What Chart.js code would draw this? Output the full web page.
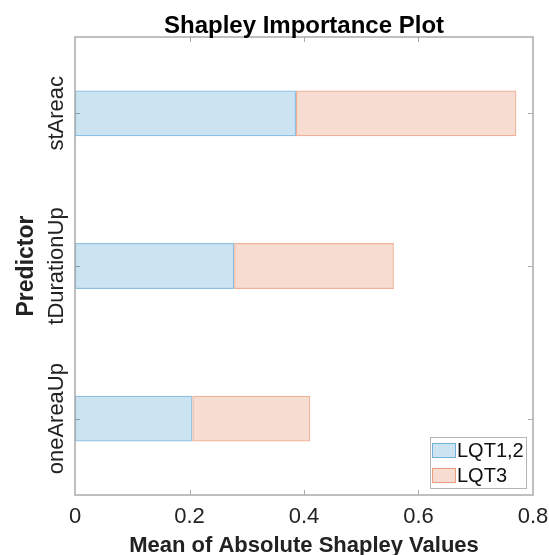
<!DOCTYPE html>
<html lang="en">
<head>
    <meta charset="UTF-8">
    <title>Shapley Importance Plot</title>
    <style>
        html, body { margin: 0; padding: 0; background: #fff; }
        #wrap { width: 549px; height: 555px; }
    </style>
</head>
<body>
    <div id="wrap"><canvas id="myChart"></canvas></div>

    <script src="https://cdn.jsdelivr.net/npm/chart.js"></script>
    <script>
        const predictors = ['stAreac', 'tDurationUp', 'oneAreaUp'];
        const lqt12 = [0.386, 0.278, 0.205];
        const lqt3 = [0.385, 0.279, 0.206];
        const xTicks = [0, 0.2, 0.4, 0.6, 0.8];
        const chartTitle = 'Shapley Importance Plot';

        const fontFam = '"Liberation Sans", Arial, sans-serif';
        const axisGray = 'rgb(170,170,170)';

        // box, inward ticks, title, rotated y labels and legend in the MATLAB way
        const matlabAxes = {
            id: 'matlabAxes',
            beforeDatasetsDraw(chart) {
                const { ctx, chartArea: a, scales: { x, y } } = chart;
                ctx.save();
                ctx.strokeStyle = axisGray;
                ctx.lineWidth = 1;
                ctx.beginPath();
                xTicks.slice(1, -1).forEach(v => {
                    const px = Math.round(x.getPixelForValue(v)) + 0.5;
                    ctx.moveTo(px, a.top); ctx.lineTo(px, a.top + 5);
                    ctx.moveTo(px, a.bottom); ctx.lineTo(px, a.bottom - 5);
                });
                predictors.forEach((p, i) => {
                    const py = Math.round(y.getPixelForValue(i)) + 0.5;
                    ctx.moveTo(a.left, py); ctx.lineTo(a.left + 5, py);
                    ctx.moveTo(a.right, py); ctx.lineTo(a.right - 5, py);
                });
                ctx.stroke();
                ctx.restore();
            },
            afterDatasetsDraw(chart) {
                const { ctx, chartArea: a, scales: { y } } = chart;
                ctx.save();
                ctx.strokeStyle = axisGray;
                ctx.lineWidth = 1.5;
                ctx.strokeRect(a.left, a.top, a.right - a.left, a.bottom - a.top);

                // title centred over the plot box
                ctx.fillStyle = '#000';
                ctx.font = 'bold 24px ' + fontFam;
                ctx.textAlign = 'center';
                ctx.textBaseline = 'alphabetic';
                ctx.fillText(chartTitle, (a.left + a.right) / 2, 33);

                // y tick labels, turned 90 degrees
                ctx.fillStyle = '#222';
                ctx.font = '22px ' + fontFam;
                predictors.forEach((p, i) => {
                    const py = y.getPixelForValue(i);
                    ctx.save();
                    ctx.translate(63, py);
                    ctx.rotate(-Math.PI / 2);
                    ctx.fillText(p, 0, 0);
                    ctx.restore();
                });

                // legend in the lower right corner
                const lx = 430, ly = 437, lw = 96, lh = 51;
                ctx.fillStyle = '#fff';
                ctx.fillRect(lx, ly, lw, lh);
                ctx.lineWidth = 1;
                ctx.strokeStyle = 'rgb(180,180,180)';
                ctx.strokeRect(lx + 0.5, ly + 0.5, lw, lh);
                ctx.font = '20px ' + fontFam;
                ctx.textAlign = 'left';
                ctx.textBaseline = 'middle';
                chart.data.datasets.forEach((ds, i) => {
                    const sy = 443 + i * 25;
                    ctx.fillStyle = ds.backgroundColor;
                    ctx.fillRect(432, sy, 24, 15);
                    ctx.strokeStyle = ds.borderColor;
                    ctx.strokeRect(432.5, sy + 0.5, 23, 14);
                    ctx.fillStyle = '#111';
                    ctx.fillText(ds.label, 457, sy + 8);
                });
                ctx.restore();
            }
        };

        new Chart(document.getElementById('myChart'), {
            type: 'bar',
            data: {
                labels: predictors,
                datasets: [{
                    label: 'LQT1,2',
                    data: lqt12,
                    backgroundColor: 'rgba(0,114,189,0.2)',
                    borderColor: 'rgba(0,114,189,0.45)',
                    borderWidth: 1.2,
                    borderSkipped: false,
                    barPercentage: 0.3,
                    categoryPercentage: 1
                }, {
                    label: 'LQT3',
                    data: lqt3,
                    backgroundColor: 'rgba(217,83,25,0.2)',
                    borderColor: 'rgba(217,83,25,0.45)',
                    borderWidth: 1.2,
                    borderSkipped: false,
                    barPercentage: 0.3,
                    categoryPercentage: 1
                }]
            },
            options: {
                indexAxis: 'y',
                responsive: true,
                maintainAspectRatio: false,
                animation: false,
                layout: { padding: { left: 0, right: 16, top: 37, bottom: 0 } },
                plugins: {
                    legend: { display: false },
                    tooltip: { enabled: false },
                    title: { display: false }
                },
                scales: {
                    x: {
                        stacked: true,
                        min: 0,
                        max: 0.8,
                        afterBuildTicks: (s) => { s.ticks = xTicks.map(v => ({ value: v })); },
                        afterFit: (s) => { s.height = 60; s.paddingLeft = 0; s.paddingRight = 0; },
                        grid: { display: false, drawTicks: false },
                        border: { display: false },
                        ticks: {
                            color: '#222',
                            padding: 9,
                            maxRotation: 0,
                            font: { family: fontFam, size: 22 },
                            callback: (v) => String(Math.round(v * 10) / 10)
                        },
                        title: {
                            display: true,
                            text: 'Mean of Absolute Shapley Values',
                            color: '#222',
                            font: { family: fontFam, size: 22, weight: 'bold', lineHeight: 0.8 },
                            padding: 0
                        }
                    },
                    y: {
                        stacked: true,
                        afterFit: (s) => { s.width = 75; s.paddingTop = 0; s.paddingBottom = 0; },
                        grid: { display: false, drawTicks: false },
                        border: { display: false },
                        ticks: { display: false },
                        title: {
                            display: true,
                            text: 'Predictor',
                            color: '#222',
                            font: { family: fontFam, size: 23, weight: 'bold', lineHeight: 1 },
                            padding: { top: 15, bottom: 0 }
                        }
                    }
                }
            },
            plugins: [matlabAxes]
        });
    </script>
</body>
</html>
